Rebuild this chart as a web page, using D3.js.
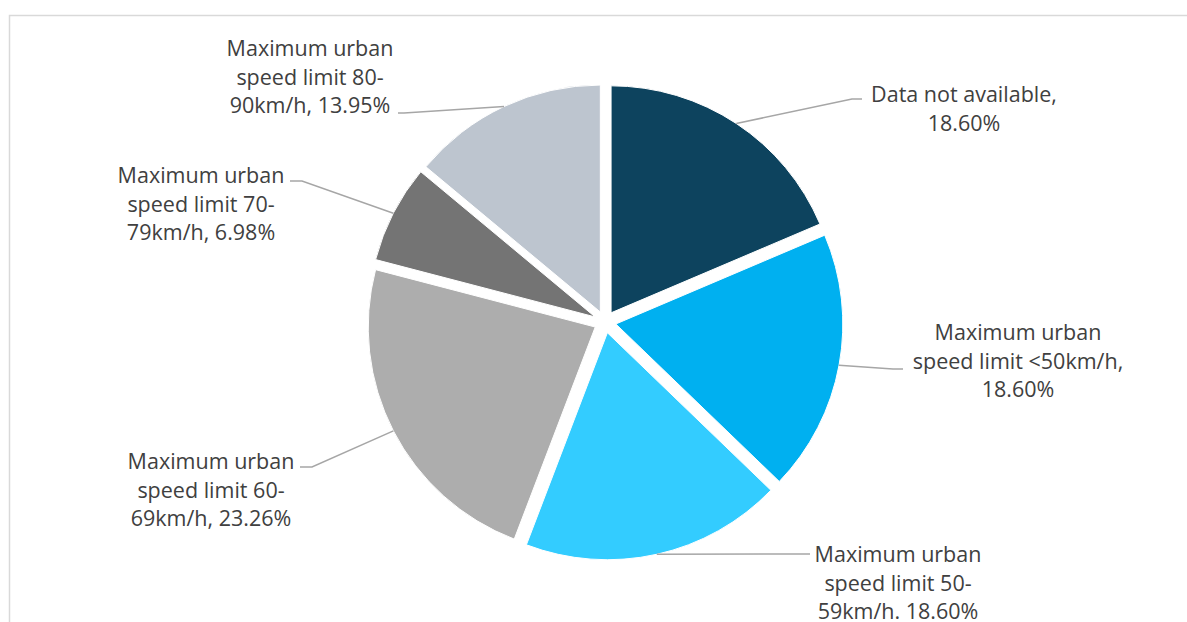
<!DOCTYPE html>
<html>
<head>
<meta charset="utf-8">
<script src="https://cdn.jsdelivr.net/npm/d3@7/dist/d3.min.js"></script>
<style>
  html, body { margin: 0; padding: 0; background: #fff; }
  svg { display: block; }
  text { font-family: "Open Sans", "Noto Sans", sans-serif; fill: #404040; }
</style>
</head>
<body>
<svg id="chart" width="1187" height="622"></svg>
<script>
// Share of countries by maximum urban speed limit (clockwise from 12 o'clock)
const categories = [
  "Data not available",
  "Maximum urban speed limit <50km/h",
  "Maximum urban speed limit 50-59km/h",
  "Maximum urban speed limit 60-69km/h",
  "Maximum urban speed limit 70-79km/h",
  "Maximum urban speed limit 80-90km/h"
];
const shares = [18.60, 18.60, 18.60, 23.26, 6.98, 13.95];
const labelLines = [
  ["Data not available,", "18.60%"],
  ["Maximum urban", "speed limit <50km/h,", "18.60%"],
  ["Maximum urban", "speed limit 50-", "59km/h. 18.60%"],
  ["Maximum urban", "speed limit 60-", "69km/h, 23.26%"],
  ["Maximum urban", "speed limit 70-", "79km/h, 6.98%"],
  ["Maximum urban", "speed limit 80-", "90km/h, 13.95%"]
];
const colors = ["#0d435e", "#00b0f0", "#33ccff", "#adadad", "#747474", "#bdc5cf"];

// Label placement: text centre, first baseline, and leader bend points near the text
const labelLayout = [
  { x: 964,  y: 102, bend: [[852, 99], [862, 99]] },
  { x: 1018, y: 340, bend: [[893, 369], [903, 369]] },
  { x: 898,  y: 562, bend: [[810, 554]] },
  { x: 211,  y: 469, bend: [[312, 467], [300, 467]] },
  { x: 201,  y: 183, bend: [[302, 181], [290, 181]] },
  { x: 310,  y: 56,  bend: [[404, 113], [398, 113]] }
];

const cx = 605, cy = 322, radius = 227, explode = 11, lineGap = 28.5;

const svg = d3.select("#chart");

// chart area frame (top and left edges visible)
svg.append("rect")
  .attr("x", 9.5).attr("y", 15.5)
  .attr("width", 1200).attr("height", 700)
  .attr("fill", "none")
  .attr("stroke", "#d9d9d9")
  .attr("stroke-width", 1.5);

const pie = d3.pie().sort(null).value(d => d)(shares);
const arc = d3.arc().innerRadius(0).outerRadius(radius);

const g = svg.append("g").attr("transform", `translate(${cx},${cy})`);

function offset(d) {
  const a = (d.startAngle + d.endAngle) / 2;
  return [Math.sin(a) * explode, -Math.cos(a) * explode];
}

g.selectAll("path.slice")
  .data(pie)
  .join("path")
  .attr("class", "slice")
  .attr("d", arc)
  .attr("transform", d => { const o = offset(d); return `translate(${o[0]},${o[1]})`; })
  .attr("fill", (d, i) => colors[i])
  .attr("stroke", "#fff")
  .attr("stroke-width", 1);

// leader lines from each slice's arc midpoint to its label
const line = d3.line();
pie.forEach((d, i) => {
  const a = (d.startAngle + d.endAngle) / 2;
  const o = offset(d);
  const start = [cx + o[0] + Math.sin(a) * radius, cy + o[1] - Math.cos(a) * radius];
  svg.append("path")
    .attr("d", line([start, ...labelLayout[i].bend]))
    .attr("fill", "none")
    .attr("stroke", "#a6a6a6")
    .attr("stroke-width", 1.5);
});

// data labels
labelLines.forEach((lines, i) => {
  const L = labelLayout[i];
  const t = svg.append("text")
    .attr("text-anchor", "middle")
    .attr("font-size", 21.5);
  lines.forEach((s, k) => {
    t.append("tspan").attr("x", L.x).attr("y", L.y + k * lineGap).text(s);
  });
});
</script>
</body>
</html>
